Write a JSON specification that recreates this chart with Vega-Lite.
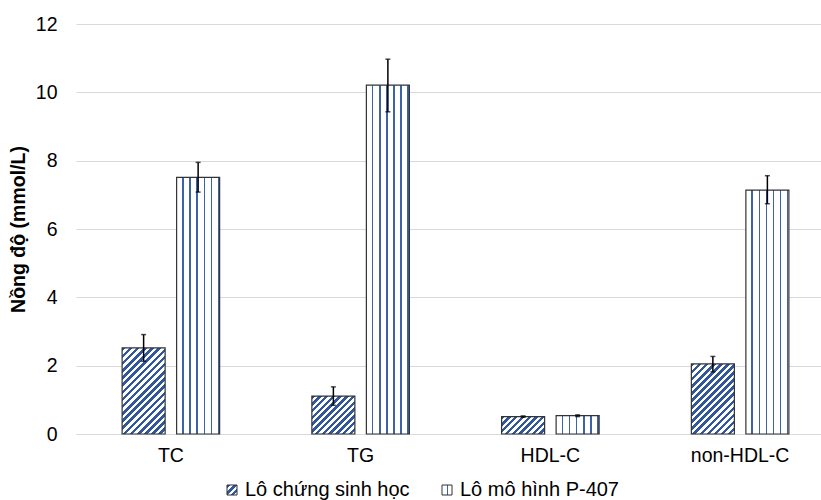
{
"$schema": "https://vega.github.io/schema/vega-lite/v6.json",
"width": 745,
"height": 410,
"autosize": {"type": "none"},
"padding": {"left": 76, "top": 24, "right": 0, "bottom": 66},
"background": "white",
"config": {"view": {"stroke": null}, "font": "Liberation Sans"},
"data": {"values": [
{"cat":"TC","group":"Lô chứng sinh học","value":2.52,"lo":2.13,"hi":2.91},
{"cat":"TC","group":"Lô mô hình P-407","value":7.51,"lo":7.08,"hi":7.95},
{"cat":"TG","group":"Lô chứng sinh học","value":1.11,"lo":0.84,"hi":1.38},
{"cat":"TG","group":"Lô mô hình P-407","value":10.21,"lo":9.43,"hi":10.97},
{"cat":"HDL-C","group":"Lô chứng sinh học","value":0.51,"lo":0.49,"hi":0.53},
{"cat":"HDL-C","group":"Lô mô hình P-407","value":0.535,"lo":0.51,"hi":0.56},
{"cat":"non-HDL-C","group":"Lô chứng sinh học","value":2.05,"lo":1.82,"hi":2.27},
{"cat":"non-HDL-C","group":"Lô mô hình P-407","value":7.14,"lo":6.74,"hi":7.56}
]},
"encoding": {
"x": {"field": "cat", "type": "nominal", "sort": ["TC","TG","HDL-C","non-HDL-C"],
  "scale": {"range": [0, 759], "paddingInner": 0, "paddingOuter": 0},
  "axis": {"title": null, "labelFontSize": 19.5, "labelColor": "black", "ticks": false, "domainColor": "#d9d9d9", "domainWidth": 1, "labelPadding": 12, "labelAngle": 0}},
"xOffset": {"field": "group", "type": "nominal", "sort": ["Lô chứng sinh học","Lô mô hình P-407"], "scale": {"paddingInner": 0.211, "paddingOuter": 0.846}}
},
"layer": [
{"mark": {"type": "bar", "stroke": "#333333", "strokeWidth": 1.2},
 "encoding": {
  "y": {"field": "value", "type": "quantitative", "title": "Nồng độ (mmol/L)", "scale": {"domain": [0, 12]},
   "axis": {"values": [0,2,4,6,8,10,12], "grid": true, "gridColor": "#d9d9d9", "domain": false, "ticks": false, "labelFontSize": 19.5, "labelColor": "black", "labelPadding": 19, "titleFontSize": 19.5, "titleFontWeight": "bold", "titleColor": "black", "titlePadding": 7}},
  "fill": {
   "condition": [
    {"test": "datum.group === 'Lô mô hình P-407'", "value": {"gradient": "linear", "x1": 0, "y1": 0, "x2": 1, "y2": 0, "stops": [
      {"offset":0,"color":"#fff"},{"offset":0.13,"color":"#fff"},{"offset":0.13,"color":"#3d62a8"},{"offset":0.165,"color":"#3d62a8"},{"offset":0.165,"color":"#fff"},
      {"offset":0.295,"color":"#fff"},{"offset":0.295,"color":"#3d62a8"},{"offset":0.33,"color":"#3d62a8"},{"offset":0.33,"color":"#fff"},
      {"offset":0.46,"color":"#fff"},{"offset":0.46,"color":"#3d62a8"},{"offset":0.495,"color":"#3d62a8"},{"offset":0.495,"color":"#fff"},
      {"offset":0.625,"color":"#fff"},{"offset":0.625,"color":"#3d62a8"},{"offset":0.66,"color":"#3d62a8"},{"offset":0.66,"color":"#fff"},
      {"offset":0.79,"color":"#fff"},{"offset":0.79,"color":"#3d62a8"},{"offset":0.825,"color":"#3d62a8"},{"offset":0.825,"color":"#fff"},
      {"offset":0.955,"color":"#fff"},{"offset":0.955,"color":"#3d62a8"},{"offset":0.99,"color":"#3d62a8"},{"offset":0.99,"color":"#fff"},{"offset":1,"color":"#fff"}]}},
    {"test": "datum.cat === 'TC'", "value": {"gradient": "linear", "x1": 0, "y1": 0, "x2": 0.5994, "y2": 1.2001, "stops": [
      {"offset":0,"color":"#33579d"},{"offset":0.0278,"color":"#33579d"},{"offset":0.0278,"color":"#fff"},{"offset":0.0556,"color":"#fff"},
      {"offset":0.0556,"color":"#33579d"},{"offset":0.0833,"color":"#33579d"},{"offset":0.0833,"color":"#fff"},{"offset":0.1111,"color":"#fff"},
      {"offset":0.1111,"color":"#33579d"},{"offset":0.1389,"color":"#33579d"},{"offset":0.1389,"color":"#fff"},{"offset":0.1667,"color":"#fff"},
      {"offset":0.1667,"color":"#33579d"},{"offset":0.1944,"color":"#33579d"},{"offset":0.1944,"color":"#fff"},{"offset":0.2222,"color":"#fff"},
      {"offset":0.2222,"color":"#33579d"},{"offset":0.25,"color":"#33579d"},{"offset":0.25,"color":"#fff"},{"offset":0.2778,"color":"#fff"},
      {"offset":0.2778,"color":"#33579d"},{"offset":0.3056,"color":"#33579d"},{"offset":0.3056,"color":"#fff"},{"offset":0.3333,"color":"#fff"},
      {"offset":0.3333,"color":"#33579d"},{"offset":0.3611,"color":"#33579d"},{"offset":0.3611,"color":"#fff"},{"offset":0.3889,"color":"#fff"},
      {"offset":0.3889,"color":"#33579d"},{"offset":0.4167,"color":"#33579d"},{"offset":0.4167,"color":"#fff"},{"offset":0.4444,"color":"#fff"},
      {"offset":0.4444,"color":"#33579d"},{"offset":0.4722,"color":"#33579d"},{"offset":0.4722,"color":"#fff"},{"offset":0.5,"color":"#fff"},
      {"offset":0.5,"color":"#33579d"},{"offset":0.5278,"color":"#33579d"},{"offset":0.5278,"color":"#fff"},{"offset":0.5556,"color":"#fff"},
      {"offset":0.5556,"color":"#33579d"},{"offset":0.5833,"color":"#33579d"},{"offset":0.5833,"color":"#fff"},{"offset":0.6111,"color":"#fff"},
      {"offset":0.6111,"color":"#33579d"},{"offset":0.6389,"color":"#33579d"},{"offset":0.6389,"color":"#fff"},{"offset":0.6667,"color":"#fff"},
      {"offset":0.6667,"color":"#33579d"},{"offset":0.6944,"color":"#33579d"},{"offset":0.6944,"color":"#fff"},{"offset":0.7222,"color":"#fff"},
      {"offset":0.7222,"color":"#33579d"},{"offset":0.75,"color":"#33579d"},{"offset":0.75,"color":"#fff"},{"offset":0.7778,"color":"#fff"},
      {"offset":0.7778,"color":"#33579d"},{"offset":0.8056,"color":"#33579d"},{"offset":0.8056,"color":"#fff"},{"offset":0.8333,"color":"#fff"},
      {"offset":0.8333,"color":"#33579d"},{"offset":0.8611,"color":"#33579d"},{"offset":0.8611,"color":"#fff"},{"offset":0.8889,"color":"#fff"},
      {"offset":0.8889,"color":"#33579d"},{"offset":0.9167,"color":"#33579d"},{"offset":0.9167,"color":"#fff"},{"offset":0.9444,"color":"#fff"},
      {"offset":0.9444,"color":"#33579d"},{"offset":0.9722,"color":"#33579d"},{"offset":0.9722,"color":"#fff"},{"offset":1,"color":"#fff"}]}},
    {"test": "datum.cat === 'TG'", "value": {"gradient": "linear", "x1": 0, "y1": 0, "x2": 1.059, "y2": 0.9334, "stops": [
      {"offset":0,"color":"#33579d"},{"offset":0.0417,"color":"#33579d"},{"offset":0.0417,"color":"#fff"},{"offset":0.0833,"color":"#fff"},
      {"offset":0.0833,"color":"#33579d"},{"offset":0.125,"color":"#33579d"},{"offset":0.125,"color":"#fff"},{"offset":0.1667,"color":"#fff"},
      {"offset":0.1667,"color":"#33579d"},{"offset":0.2083,"color":"#33579d"},{"offset":0.2083,"color":"#fff"},{"offset":0.25,"color":"#fff"},
      {"offset":0.25,"color":"#33579d"},{"offset":0.2917,"color":"#33579d"},{"offset":0.2917,"color":"#fff"},{"offset":0.3333,"color":"#fff"},
      {"offset":0.3333,"color":"#33579d"},{"offset":0.375,"color":"#33579d"},{"offset":0.375,"color":"#fff"},{"offset":0.4167,"color":"#fff"},
      {"offset":0.4167,"color":"#33579d"},{"offset":0.4583,"color":"#33579d"},{"offset":0.4583,"color":"#fff"},{"offset":0.5,"color":"#fff"},
      {"offset":0.5,"color":"#33579d"},{"offset":0.5417,"color":"#33579d"},{"offset":0.5417,"color":"#fff"},{"offset":0.5833,"color":"#fff"},
      {"offset":0.5833,"color":"#33579d"},{"offset":0.625,"color":"#33579d"},{"offset":0.625,"color":"#fff"},{"offset":0.6667,"color":"#fff"},
      {"offset":0.6667,"color":"#33579d"},{"offset":0.7083,"color":"#33579d"},{"offset":0.7083,"color":"#fff"},{"offset":0.75,"color":"#fff"},
      {"offset":0.75,"color":"#33579d"},{"offset":0.7917,"color":"#33579d"},{"offset":0.7917,"color":"#fff"},{"offset":0.8333,"color":"#fff"},
      {"offset":0.8333,"color":"#33579d"},{"offset":0.875,"color":"#33579d"},{"offset":0.875,"color":"#fff"},{"offset":0.9167,"color":"#fff"},
      {"offset":0.9167,"color":"#33579d"},{"offset":0.9583,"color":"#33579d"},{"offset":0.9583,"color":"#fff"},{"offset":1,"color":"#fff"}]}},
    {"test": "datum.cat === 'HDL-C'", "value": {"gradient": "linear", "x1": 0, "y1": 0, "x2": 1.207, "y2": 0.4884, "stops": [
      {"offset":0,"color":"#33579d"},{"offset":0.0556,"color":"#33579d"},{"offset":0.0556,"color":"#fff"},{"offset":0.1111,"color":"#fff"},
      {"offset":0.1111,"color":"#33579d"},{"offset":0.1667,"color":"#33579d"},{"offset":0.1667,"color":"#fff"},{"offset":0.2222,"color":"#fff"},
      {"offset":0.2222,"color":"#33579d"},{"offset":0.2778,"color":"#33579d"},{"offset":0.2778,"color":"#fff"},{"offset":0.3333,"color":"#fff"},
      {"offset":0.3333,"color":"#33579d"},{"offset":0.3889,"color":"#33579d"},{"offset":0.3889,"color":"#fff"},{"offset":0.4444,"color":"#fff"},
      {"offset":0.4444,"color":"#33579d"},{"offset":0.5,"color":"#33579d"},{"offset":0.5,"color":"#fff"},{"offset":0.5556,"color":"#fff"},
      {"offset":0.5556,"color":"#33579d"},{"offset":0.6111,"color":"#33579d"},{"offset":0.6111,"color":"#fff"},{"offset":0.6667,"color":"#fff"},
      {"offset":0.6667,"color":"#33579d"},{"offset":0.7222,"color":"#33579d"},{"offset":0.7222,"color":"#fff"},{"offset":0.7778,"color":"#fff"},
      {"offset":0.7778,"color":"#33579d"},{"offset":0.8333,"color":"#33579d"},{"offset":0.8333,"color":"#fff"},{"offset":0.8889,"color":"#fff"},
      {"offset":0.8889,"color":"#33579d"},{"offset":0.9444,"color":"#33579d"},{"offset":0.9444,"color":"#fff"},{"offset":1,"color":"#fff"}]}},
    {"test": "datum.cat === 'non-HDL-C'", "value": {"gradient": "linear", "x1": 0, "y1": 0, "x2": 0.72, "y2": 1.172, "stops": [
      {"offset":0,"color":"#33579d"},{"offset":0.0313,"color":"#33579d"},{"offset":0.0313,"color":"#fff"},{"offset":0.0625,"color":"#fff"},
      {"offset":0.0625,"color":"#33579d"},{"offset":0.0938,"color":"#33579d"},{"offset":0.0938,"color":"#fff"},{"offset":0.125,"color":"#fff"},
      {"offset":0.125,"color":"#33579d"},{"offset":0.1563,"color":"#33579d"},{"offset":0.1563,"color":"#fff"},{"offset":0.1875,"color":"#fff"},
      {"offset":0.1875,"color":"#33579d"},{"offset":0.2188,"color":"#33579d"},{"offset":0.2188,"color":"#fff"},{"offset":0.25,"color":"#fff"},
      {"offset":0.25,"color":"#33579d"},{"offset":0.2813,"color":"#33579d"},{"offset":0.2813,"color":"#fff"},{"offset":0.3125,"color":"#fff"},
      {"offset":0.3125,"color":"#33579d"},{"offset":0.3438,"color":"#33579d"},{"offset":0.3438,"color":"#fff"},{"offset":0.375,"color":"#fff"},
      {"offset":0.375,"color":"#33579d"},{"offset":0.4063,"color":"#33579d"},{"offset":0.4063,"color":"#fff"},{"offset":0.4375,"color":"#fff"},
      {"offset":0.4375,"color":"#33579d"},{"offset":0.4688,"color":"#33579d"},{"offset":0.4688,"color":"#fff"},{"offset":0.5,"color":"#fff"},
      {"offset":0.5,"color":"#33579d"},{"offset":0.5313,"color":"#33579d"},{"offset":0.5313,"color":"#fff"},{"offset":0.5625,"color":"#fff"},
      {"offset":0.5625,"color":"#33579d"},{"offset":0.5938,"color":"#33579d"},{"offset":0.5938,"color":"#fff"},{"offset":0.625,"color":"#fff"},
      {"offset":0.625,"color":"#33579d"},{"offset":0.6563,"color":"#33579d"},{"offset":0.6563,"color":"#fff"},{"offset":0.6875,"color":"#fff"},
      {"offset":0.6875,"color":"#33579d"},{"offset":0.7188,"color":"#33579d"},{"offset":0.7188,"color":"#fff"},{"offset":0.75,"color":"#fff"},
      {"offset":0.75,"color":"#33579d"},{"offset":0.7813,"color":"#33579d"},{"offset":0.7813,"color":"#fff"},{"offset":0.8125,"color":"#fff"},
      {"offset":0.8125,"color":"#33579d"},{"offset":0.8438,"color":"#33579d"},{"offset":0.8438,"color":"#fff"},{"offset":0.875,"color":"#fff"},
      {"offset":0.875,"color":"#33579d"},{"offset":0.9063,"color":"#33579d"},{"offset":0.9063,"color":"#fff"},{"offset":0.9375,"color":"#fff"},
      {"offset":0.9375,"color":"#33579d"},{"offset":0.9688,"color":"#33579d"},{"offset":0.9688,"color":"#fff"},{"offset":1,"color":"#fff"}]}}
   ],
   "field": "group", "type": "nominal", "sort": ["Lô chứng sinh học","Lô mô hình P-407"],
   "scale": {"domain": ["Lô chứng sinh học","Lô mô hình P-407"], "range": [
     {"expr": "{gradient: 'linear', x1: 0, y1: 0, x2: 1, y2: 1, stops: [{offset: 0, color: '#33579d'}, {offset: 0.1667, color: '#33579d'}, {offset: 0.1667, color: '#fff'}, {offset: 0.3333, color: '#fff'}, {offset: 0.3333, color: '#33579d'}, {offset: 0.5, color: '#33579d'}, {offset: 0.5, color: '#fff'}, {offset: 0.6667, color: '#fff'}, {offset: 0.6667, color: '#33579d'}, {offset: 0.8333, color: '#33579d'}, {offset: 0.8333, color: '#fff'}, {offset: 1, color: '#fff'}]}"},
     {"expr": "{gradient: 'linear', x1: 0, y1: 0, x2: 1, y2: 0, stops: [{offset: 0, color: '#fff'}, {offset: 0.47, color: '#fff'}, {offset: 0.47, color: '#3d62a8'}, {offset: 0.6, color: '#3d62a8'}, {offset: 0.6, color: '#fff'}, {offset: 1, color: '#fff'}]}"}
   ]},
   "legend": {"orient": "none", "legendX": 146, "legendY": 456, "direction": "horizontal", "title": null, "symbolType": "square", "symbolSize": 100, "symbolStrokeColor": "#333333", "symbolStrokeWidth": 1, "labelFontSize": 20, "labelLimit": 400, "labelColor": "black", "labelOffset": 3, "columnPadding": 27, "padding": 0}
  }
 }},
{"mark": {"type": "rule", "color": "black", "strokeWidth": 1.5},
 "encoding": {
  "y": {"field": "lo", "type": "quantitative", "title": "Nồng độ (mmol/L)"},
  "y2": {"field": "hi"}
 }},
{"mark": {"type": "tick", "color": "black", "thickness": 1.5, "size": 5},
 "encoding": {"y": {"field": "lo", "type": "quantitative", "title": "Nồng độ (mmol/L)"}}},
{"mark": {"type": "tick", "color": "black", "thickness": 1.5, "size": 5},
 "encoding": {"y": {"field": "hi", "type": "quantitative", "title": "Nồng độ (mmol/L)"}}}
]
}
